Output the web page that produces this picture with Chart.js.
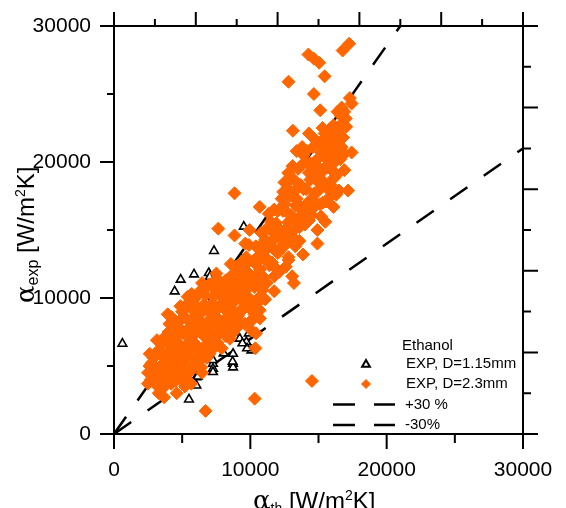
<!DOCTYPE html>
<html><head><meta charset="utf-8">
<script src="https://cdn.jsdelivr.net/npm/chart.js@4/dist/chart.umd.min.js"></script>
<style>html,body{margin:0;padding:0;background:#fff;}#wrap{width:566px;height:508px;position:relative;}</style>
</head><body><div id="wrap"><canvas id="c" width="566" height="508"></canvas></div>
<script>
// ---------- data ----------
const axisTickLabels = [0, 10000, 20000, 30000];
const bottomLeftTickValues = [0, 5000, 10000, 15000, 20000, 25000, 30000];
const topRightTickValues = [0, 3000, 6000, 9000, 12000, 15000, 18000, 21000, 24000, 27000, 30000];

// EXP, D=2.3mm (orange diamonds)
const exp23X = [17250,16770,14260,14660,15050,15450,12800,14660,15130,17430,16900,16640,17040,13120,15450,15580,16450,16380,17430,16380,16900,17170,14130,14390,14920,13100,12780,15580,16110,15320,8840,10690,11750,11350,7650,8840,9950,11090,11880,9630,11430,12670,14920,14920,15190,15580,15980,13600,12410,13330,13860,12800,13600,12010,12800,13860,13070,13200,12800,11750,11750,11750,11090,10690,10160,10420,10370,10320,6720,14520,8570,8570,8310,7510,6460,5400,4870,3940,4070,3150,2620,2750,2490,3280,3680,4600,5660,6460,
2500,2700,2900,3000,3100,3300,3400,3500,3600,3700,3800,3900,4000,4100,4200,4300,4300,4500,4600,4700,4800,4900,5000,5000,5100,5200,5300,5400,5500,5600,5700,5800,5900,6000,6100,6200,6300,6400,6500,6600,6700,6800,6900,7000,7100,7200,7300,7400,7500,7600,7700,7800,7900,8000,8100,8200,8300,8500,8600,8700,8800,8900,9000,9200,9300,9400,9600,9700,9800,9900,10000,10100,10200,10300,10400,10500,10600,10700,10800,10900,11000,11200,11300,11500,11600,11800,12000,12100,12200,12300,12400,12500,12600,12700,12900,13000,13400,13200,13300,13400,13500,13600,13700,13800,13900,14000,14100,14200,14300,14400,14500,14600,14700,14800,14900,15300,15100,15200,15300,15400,15500,15700,15800,15900,16000,16100,16200,16300,16500,16600,16700,16800,17000,17300,
2800,3200,3500,3600,3900,4000,4200,4400,4500,4600,4800,4900,5100,5200,5300,5500,5600,5700,5900,6000,6100,6200,6300,6500,6600,6700,6800,7000,7100,7200,7300,7500,7600,7800,7900,8100,8200,8300,8400,8600,8700,8800,9000,9100,9300,9400,9500,9600,9700,9900,10000,10100,10300,10500,10600,10700,10900,11000,11100,11400,11700,11900,12200,12400,12600,12800,13000,13100,13300,13500,13700,13900,14100,14300,14500,14700,14900,15100,15300,15500,15700,15900,16100,16300,16500,16700,16400,
2600,2900,3100,3300,3500,3600,3800,4000,4100,4200,4400,4500,4600,4700,4900,5000,5100,5200,5300,5400,5500,5600,5800,5800,5900,6100,6200,6300,6400,6500,6600,6700,6800,6900,7000,7100,7200,7300,7400,7600,7700,7800,8000,8100,8300,8400,8500,8600,8700,8900,9000,9100,9200,9400,9500,9600,9800,10000,10200,10300,10400,10600,10800,11000,11200,11400,11700,12000,12300,12500,12700,12900,13100,13300,13500,13700,13900,14100,14300,14500,14700,14900,15100,15300,15500,15700,15900,16100,16300,16500,16700,16900];
const exp23Y = [28700,28200,27900,27600,27300,26300,25900,25000,23800,24300,23700,23400,22600,22300,22100,21900,21500,21000,20700,20400,19400,17900,20800,19900,19200,19700,19200,19700,18800,18600,17700,16700,16500,16200,15100,14600,15000,15000,15000,14000,14000,14000,15000,14000,16000,17100,17600,18200,17800,16800,16200,15600,15200,13300,13000,13200,11600,11100,12800,12300,11600,10500,9900,9100,8400,7400,6300,2600,1700,3900,12500,11600,11100,11800,11100,10100,9400,8800,8100,6900,5900,5200,3700,3000,2700,3000,3700,4500,
4500,4000,5600,4700,3600,6200,5000,4100,5700,3500,6800,4600,7500,5400,3700,8500,6300,4500,7100,5500,8300,6400,3900,4800,7400,9300,5700,6600,8300,4700,10300,7300,5500,9400,6400,8400,10500,5600,7400,9500,6500,10800,8300,5900,7300,9600,11200,6500,8500,10400,7500,9500,6300,10700,8400,7200,9700,8800,10600,7400,9700,12300,8500,10500,11500,9200,8100,13000,10100,11800,9200,7600,12700,10800,13800,9600,11800,8500,14800,10600,12900,11100,13700,15600,12600,14400,16400,11900,13500,17300,14700,18500,12300,16300,17500,14600,20800,18700,13800,17300,19500,14200,16700,21100,18000,15400,20000,17000,22100,18700,16100,21100,17700,20100,18600,22500,16900,20700,18300,21400,15600,19600,22400,18300,20700,16700,19200,22000,17900,20200,24000,21800,23200,24700,
4900,4300,6600,4900,3800,6000,4500,6900,8100,5900,4300,7700,5300,8600,4300,6100,9300,7800,6700,8700,10200,5300,7800,9000,6100,10200,7600,9000,6800,8100,10100,7200,9200,8000,10500,9200,11300,7900,10100,9200,11500,8300,10000,11800,9000,12100,10400,9300,11000,13900,11700,9800,8800,11100,13100,12100,13600,11500,14300,12400,13600,15500,14400,16400,15100,18000,16100,17500,15100,16700,19700,15900,18000,15700,19400,16700,21500,19500,17000,20300,18000,21400,19900,17600,20900,22600,23700,
5000,3900,5800,4500,3300,7000,5300,4200,6600,8600,5100,3900,7600,6700,4800,9000,6000,3500,7600,9600,4500,6900,8200,5000,9900,7500,6200,9200,4900,8100,10700,7100,5600,9300,11000,7900,6200,8800,10600,6700,8400,11200,7600,9900,8400,11000,7000,8200,10000,11000,7800,8700,12500,9800,11700,10500,12600,8300,9600,11300,12500,10000,13000,14100,12900,15100,14800,15200,13800,16900,15000,18700,14400,17900,15800,18300,20500,16500,19200,17300,21700,17800,21400,19300,17100,21000,19500,22700,19000,22600,21100,20600];

// EXP, D=1.15mm (black open triangles)
const exp115X = [616,7335,4890,5870,6950,4450,7335,7020,9340,9450,8980,9220,9710,8850,8730,8730,8730,7260,7260,7260,6190,6040,6040,5500,10080,9520,8040,9890,7250,6140,8700,9760,9420,6290,7380,9300];
const exp115Y = [6640,13460,11350,11740,11840,10490,11010,11540,12830,12700,7130,7010,6760,7490,5900,5170,4900,5170,4800,4560,5020,4180,3570,2540,6150,15250,5930,7400,5440,4220,5320,6300,6670,5700,10960,12900];

// deviation lines
const plus30X = [0, 21000];  const plus30Y = [0, 30000];
const minus30X = [0, 30000]; const minus30Y = [0, 21000];

const ORANGE = '#FF6600';
const toPts = (xs, ys) => xs.map((x, i) => ({x: x, y: ys[i]}));

const FONT = '"Liberation Sans", Arial, sans-serif';

const framePlugin = {
  id: 'frame',
  afterDraw(chart) {
    const ctx = chart.ctx, a = chart.chartArea;
    const xs = chart.scales.x, ys = chart.scales.y, xt = chart.scales.x2, yr = chart.scales.y2;
    ctx.save();
    ctx.strokeStyle = '#000';
    ctx.lineWidth = 2;
    ctx.beginPath();
    ctx.moveTo(a.left, a.top); ctx.lineTo(a.left, a.bottom);
    ctx.moveTo(a.left, a.bottom); ctx.lineTo(a.right, a.bottom);
    ctx.moveTo(a.right, a.bottom); ctx.lineTo(a.right, a.top);
    ctx.moveTo(a.right, a.top); ctx.lineTo(a.left, a.top);
    bottomLeftTickValues.forEach(v => {
      const major = v % 10000 === 0;
      const px = xs.getPixelForValue(v);
      ctx.moveTo(px, a.bottom); ctx.lineTo(px, a.bottom + (major ? 15 : 9));
      const py = ys.getPixelForValue(v);
      ctx.moveTo(a.left, py); ctx.lineTo(a.left - (major ? 14 : 7), py);
    });
    topRightTickValues.forEach((v, i) => {
      const major = i % 2 === 0;
      const px = xt.getPixelForValue(v);
      ctx.moveTo(px, a.top); ctx.lineTo(px, a.top - (major ? 14 : 7));
      const py = yr.getPixelForValue(v);
      ctx.moveTo(a.right, py); ctx.lineTo(a.right + (major ? 15 : 8), py);
    });
    ctx.stroke();

    // axis titles
    ctx.fillStyle = '#000';
    ctx.textBaseline = 'alphabetic';
    ctx.textAlign = 'left';
    // x title
    let x = 253, base = 509;
    ctx.font = '26px "DejaVu Serif", serif';
    ctx.fillText('α', x, base); x += ctx.measureText('α').width;
    ctx.font = '14px ' + FONT;
    ctx.fillText('th', x, base + 4); x += ctx.measureText('th').width;
    ctx.font = '24px ' + FONT;
    ctx.fillText(' [W/m', x, base); x += ctx.measureText(' [W/m').width;
    ctx.font = '14px ' + FONT;
    ctx.fillText('2', x, base - 9); x += ctx.measureText('2').width;
    ctx.font = '24px ' + FONT;
    ctx.fillText('K]', x, base);
    // y title
    ctx.save();
    ctx.translate(34, 303);
    ctx.rotate(-Math.PI / 2);
    x = 0;
    ctx.font = '26px "DejaVu Serif", serif';
    ctx.fillText('α', x, 0); x += ctx.measureText('α').width;
    ctx.font = '16px ' + FONT;
    ctx.fillText('exp', x, 4); x += ctx.measureText('exp').width;
    ctx.font = '24px ' + FONT;
    ctx.fillText(' [W/m', x, 0); x += ctx.measureText(' [W/m').width;
    ctx.font = '14px ' + FONT;
    ctx.fillText('2', x, -9); x += ctx.measureText('2').width;
    ctx.font = '24px ' + FONT;
    ctx.fillText('K]', x, 0);
    ctx.restore();

    // legend
    ctx.font = '15px ' + FONT;
    ctx.textBaseline = 'middle';
    ctx.fillText('Ethanol', 402, 346);
    ctx.fillText('EXP, D=1.15mm', 406, 364);
    ctx.fillText('EXP, D=2.3mm', 406, 384);
    ctx.fillText('+30 %', 405, 404.5);
    ctx.fillText('-30%', 405, 425);
    // triangle
    ctx.beginPath();
    const tx = 366, ty = 364.5, r = 4.5;
    ctx.moveTo(tx, ty - r);
    ctx.lineTo(tx + r * 0.866, ty + r * 0.5);
    ctx.lineTo(tx - r * 0.866, ty + r * 0.5);
    ctx.closePath();
    ctx.fillStyle = '#fff'; ctx.fill();
    ctx.lineWidth = 2; ctx.strokeStyle = '#000'; ctx.stroke();
    // diamond
    ctx.beginPath();
    const dx = 366, dy = 384, dr = 5;
    ctx.moveTo(dx, dy - dr); ctx.lineTo(dx + dr, dy); ctx.lineTo(dx, dy + dr); ctx.lineTo(dx - dr, dy); ctx.closePath();
    ctx.fillStyle = ORANGE; ctx.fill();
    // dashed samples
    ctx.strokeStyle = '#000'; ctx.lineWidth = 2.5;
    ctx.beginPath();
    [404.5, 425].forEach(yy => {
      ctx.moveTo(333, yy); ctx.lineTo(355, yy);
      ctx.moveTo(374, yy); ctx.lineTo(395, yy);
    });
    ctx.stroke();
    ctx.restore();
  }
};

const fixSize = (prop, val) => (s) => {
  s[prop] = val;
  s.paddingTop = 0; s.paddingBottom = 0; s.paddingLeft = 0; s.paddingRight = 0;
};

new Chart(document.getElementById('c'), {
  type: 'scatter',
  data: {
    datasets: [
      { label: 'EXP, D=2.3mm', data: toPts(exp23X, exp23Y), order: 0,
        pointStyle: 'rectRot', pointRadius: 6.5, backgroundColor: ORANGE, borderColor: ORANGE, borderWidth: 1 },
      { label: 'EXP, D=1.15mm', data: toPts(exp115X, exp115Y), order: 1,
        pointStyle: 'triangle', pointRadius: 5, backgroundColor: '#fff', borderColor: '#000', borderWidth: 1.6 },
      { label: '+30 %', data: toPts(plus30X, plus30Y), order: 2, showLine: true, pointRadius: 0,
        borderColor: '#000', borderWidth: 2.5, borderDash: [21, 20], fill: false },
      { label: '-30%', data: toPts(minus30X, minus30Y), order: 3, showLine: true, pointRadius: 0,
        borderColor: '#000', borderWidth: 2.5, borderDash: [21, 20], fill: false }
    ]
  },
  options: {
    responsive: false,
    devicePixelRatio: 1,
    animation: false,
    events: [],
    layout: { padding: 0 },
    plugins: { legend: { display: false }, tooltip: { enabled: false }, title: { display: false } },
    scales: {
      x: { type: 'linear', position: 'bottom', min: 0, max: 30000,
        afterFit: fixSize('height', 74),
        afterBuildTicks: (s) => { s.ticks = axisTickLabels.map(v => ({value: v})); },
        grid: { display: false, drawTicks: false }, border: { display: false },
        ticks: { padding: 24, color: '#000', font: { family: FONT, size: 21 }, maxRotation: 0, autoSkip: false,
          callback: (v) => String(v) } },
      y: { type: 'linear', position: 'left', min: 0, max: 30000,
        afterFit: fixSize('width', 114),
        afterBuildTicks: (s) => { s.ticks = axisTickLabels.map(v => ({value: v})); },
        grid: { display: false, drawTicks: false }, border: { display: false },
        ticks: { padding: 23, color: '#000', font: { family: FONT, size: 21 }, autoSkip: false,
          callback: (v) => String(v) } },
      x2: { type: 'linear', position: 'top', min: 0, max: 30000,
        afterFit: fixSize('height', 26),
        grid: { display: false, drawTicks: false }, border: { display: false }, ticks: { display: false } },
      y2: { type: 'linear', position: 'right', min: 0, max: 30000,
        afterFit: fixSize('width', 43),
        grid: { display: false, drawTicks: false }, border: { display: false }, ticks: { display: false } }
    }
  },
  plugins: [framePlugin]
});
</script>
</body></html>
